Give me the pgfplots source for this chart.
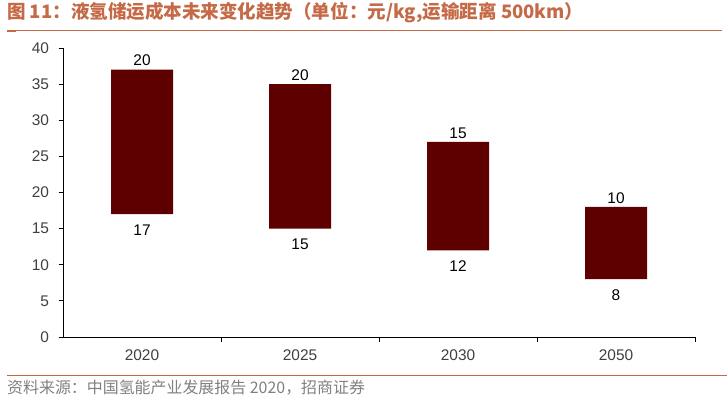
\documentclass[border=0pt]{standalone}
\usepackage{pgfplots}
\pgfplotsset{compat=1.18}
\usepackage{fontspec}
\setmainfont{Liberation Sans}
\newfontfamily\cjk{Noto Sans CJK SC}
\definecolor{ttl}{RGB}{196,106,70}
\definecolor{bar}{RGB}{94,0,0}
\definecolor{tk}{RGB}{64,64,64}
\definecolor{src}{RGB}{128,128,128}
\begin{document}
\begin{tikzpicture}[x=1bp,y=1bp]
\path[use as bounding box] (0,0) rectangle (727,398);
% title
\node[anchor=west,text=ttl,inner sep=0pt] at (7,385) {\cjk\bfseries\fontsize{18.6}{21}\selectfont 图 11：液氢储运成本未来变化趋势（单位：元/kg,运输距离 500km）};
\draw[ttl,line width=1bp] (7,367) -- (722,367);
\fill[ttl] (7,365.5) rectangle (16,368);
% bottom line and source
\draw[ttl,line width=1.5bp] (7,22.5) -- (727,22.5);
\node[anchor=west,text=src,inner sep=0pt] at (7,10) {\cjk\fontsize{16}{18}\selectfont 资料来源：中国氢能产业发展报告 2020，招商证券};
\begin{axis}[
  at={(63bp,61bp)}, anchor=south west,
  width=632bp, height=289bp, scale only axis,
  xmin=-0.5, xmax=3.5, ymin=0, ymax=40,
  axis x line*=bottom, axis y line*=left,
  axis line style={black, line width=0.8bp, -},
  xtick={0,1,2,3}, xticklabels={2020,2025,2030,2050},
  minor xtick={0.5,1.5,2.5,3.5},
  ytick={0,5,...,40},
  tick align=outside,
  major tick length=4.5bp, minor tick length=4.5bp,
  x tick style={draw=none},
  minor x tick style={draw=black,line width=0.8bp},
  y tick style={black,line width=0.8bp},
  tick label style={font=\fontsize{15.5}{17}\selectfont, text=tk},
  xticklabel style={yshift=-5bp},
  yticklabel style={xshift=-6bp},
  /pgf/number format/assume math mode=true,
  ybar stacked, bar width=62bp,
  clip=false,
]
\addplot[draw=none, fill=none] coordinates {(0,17) (1,15) (2,12) (3,8)};
\addplot[draw=none, fill=bar] coordinates {(0,20) (1,20) (2,15) (3,10)};
\end{axis}
\begin{axis}[
  at={(63bp,61bp)}, anchor=south west,
  width=632bp, height=289bp, scale only axis,
  xmin=-0.5, xmax=3.5, ymin=0, ymax=40,
  hide axis, clip=false,
]
\addplot[only marks, mark=none, point meta=explicit symbolic,
  nodes near coords,
  nodes near coords style={anchor=south, inner sep=0pt, yshift=3.5bp, font=\fontsize{15.5}{17}\selectfont, text=black}]
  coordinates {(0,37)[20] (1,35)[20] (2,27)[15] (3,18)[10]};
\addplot[only marks, mark=none, point meta=explicit symbolic,
  nodes near coords,
  nodes near coords style={anchor=north, inner sep=0pt, yshift=-10bp, font=\fontsize{15.5}{17}\selectfont, text=black}]
  coordinates {(0,17)[17] (1,15)[15] (2,12)[12] (3,8)[8]};
\end{axis}
\end{tikzpicture}
\end{document}
